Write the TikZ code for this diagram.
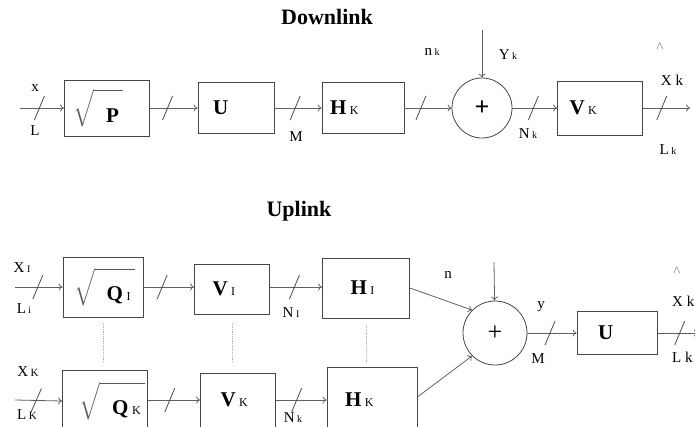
\documentclass[tikz,border=0pt]{standalone}
\usepackage{exscale}
\usepackage{fontspec}
\setmainfont{Liberation Serif}
\usetikzlibrary{arrows.meta, decorations.markings}

% bold letter with small index, as in the blocks
\newcommand{\blab}[2]{{\bfseries #1}\,{\fontsize{12}{12}\selectfont #2}}
% small label with index
\newcommand{\slab}[2]{#1\,{\fontsize{10}{10}\selectfont #2}}
% square root block
\newcommand{\sqlab}[1]{{\color{gray!70!black}$\sqrt{\rule{0pt}{27pt}\hspace{12pt}\mbox{\color{black}#1}\hspace{4pt}}$}}

\begin{document}
\begin{tikzpicture}[x=1pt, y=-1pt,
    box/.style args = {#1/#2/#3}{
                    draw=gray!55!black,% border
                    line width=0.8pt,
                    text width=#1, minimum height=#2, inner sep=0pt,
                    align=left, execute at begin node={\hspace*{#3}},
                    font=\fontsize{21}{24}\selectfont},
    sum/.style = {circle, draw=gray!55!black, line width=0.8pt,
                    minimum size=#1, inner sep=0pt,
                    font=\fontsize{26}{26}\selectfont},
    link/.style = {draw=gray!75!black, line width=0.8pt,
                    -{To[length=4pt,width=7pt]}},
    bus/.style = {postaction={decorate, decoration={markings,
                    mark=at position #1 with {\draw[-, gray!60!black, line width=0.8pt]
                    (-5pt,-12pt) -- (5pt,12pt);}}}},
    lab/.style = {inner sep=0pt, font=\fontsize{15}{15}\selectfont},
    title/.style = {inner sep=0pt, font=\fontsize{22}{22}\selectfont\bfseries},
    tie/.style = {draw=gray!60, line width=0.8pt, densely dotted}]
%---
\useasboundingbox (0,0) rectangle (695,426);
% downlink
\node (t1) [title] at (327,17) {Downlink};
\node (d1) [box=85pt/56pt/9pt]   at (107,108) {\sqlab{\bfseries P}};
\node (d2) [box=76pt/51pt/15pt]  at (236,108) {\bfseries U};
\node (d3) [box=82pt/51pt/8pt]   at (363,108) {\blab{H}{K}};
\node (d4) [sum=60pt]            at (482,108) {\bfseries +};
\node (d5) [box=85pt/54pt/12pt]  at (600,108) {\blab{V}{K}};
\coordinate (din)  at (20,108);
\coordinate (dout) at (690,108);
\coordinate (dnz)  at (482,30);
% downlink lines
\draw[link, bus=.44] (din) -- (d1.west);
\draw[link, bus=.37] (d1) -- (d2);
\draw[link, bus=.44] (d2) -- (d3);
\draw[link, bus=.35] (d3) -- (d4);
\draw[link, bus=.47] (d4) -- (d5);
\draw[link, bus=.40] (d5) -- (dout);
\draw[link]          (dnz) -- (d4);
% downlink labels
\node (dl1) [lab] at (35,88)   {x};
\node (dl2) [lab] at (35,131)  {L};
\node (dl3) [lab] at (296,137) {M};
\node (dl4) [lab] at (432,52)  {\slab{n}{k}};
\node (dl5) [lab] at (508,55)  {\slab{Y}{k}};
\node (dl6) [lab] at (528,134) {\slab{N}{k}};
\node (dl7) [lab, text=gray] at (660,48) {\textasciicircum};
\node (dl8) [lab] at (672,80)  {X~k};
\node (dl9) [lab] at (668,150) {\slab{L}{k}};
% uplink
\node (t2) [title] at (299,211) {Uplink};
\node (u1) [box=80pt/60pt/11pt]  at (103,287) {\sqlab{\blab{Q}{I}}};
\node (u2) [box=75pt/50pt/18pt]  at (232,289) {\blab{V}{I}};
\node (u3) [box=87pt/60pt/28pt]  at (366,288) {\blab{H}{I}};
\node (u4) [box=85pt/62pt/17pt]  at (105,401) {\sqlab{\blab{Q}{K}}};
\node (u5) [box=75pt/54pt/20pt]  at (238,400) {\blab{V}{K}};
\node (u6) [box=90pt/66pt/18pt]  at (372,400) {\blab{H}{K}};
\node (u7) [sum=64pt]            at (495,333) {+};
\node (u8) [box=80pt/43pt/21pt]  at (617,333) {\bfseries U};
\coordinate (uin1) at (15,287);
\coordinate (uin2) at (15,400);
\coordinate (unz)  at (494,262);
\coordinate (uout) at (698,333);
% uplink lines
\draw[link, bus=.48] (uin1) -- (u1.west);
\draw[link, bus=.37] (u1.east) -- (u1.east -| u2.west);
\draw[link, bus=.47] (u2.east |- u1.east) -- (u1.east -| u3.west);
\draw[link, bus=.45] (uin2) -- (u4.west);
\draw[link, bus=.42] (u4.east |- uin2) -- (u5.west |- uin2);
\draw[link, bus=.41] (u5.east |- uin2) -- (u6.west |- uin2);
\draw[link]          (u3.east) -- (u7.north west);
\draw[link]          ([yshift=3pt]u6.east) -- (u7.south west);
\draw[link]          (unz) -- (u7);
\draw[link, bus=.46] (u7) -- (u8);
\draw[link, bus=.55] (u8) -- (uout);
% ties between the users
\draw[tie, shorten <=6pt, shorten >=8pt] (u1.south) -- (u1.south |- u4.north);
\draw[tie, shorten <=9pt, shorten >=10pt] (u2.south) -- (u2.south |- u5.north);
\draw[tie, shorten <=7pt, shorten >=4pt] (u3.south) -- (u3.south |- u6.north);
% uplink labels
\node (ul1) [lab] at (22,268)  {X\,{\fontsize{10}{10}\selectfont I}};
\node (ul2) [lab] at (24,309)  {\slab{L}{i}};
\node (ul3) [lab] at (28,372)  {X\,{\fontsize{11}{11}\selectfont K}};
\node (ul4) [lab] at (27,415)  {L\,{\fontsize{11}{11}\selectfont K}};
\node (ul5) [lab] at (291,313) {\slab{N}{I}};
\node (ul6) [lab] at (293,418) {\slab{N}{k}};
\node (ul7) [lab] at (448,275) {n};
\node (ul8) [lab] at (541,307) {y};
\node (ul9) [lab] at (538,359) {M};
\node (ul10) [lab, text=gray] at (677,272) {\textasciicircum};
\node (ul11) [lab, anchor=west] at (672,301) {X~k};
\node (ul12) [lab, anchor=west] at (672,357) {L~k};
\end{tikzpicture}
\end{document}
